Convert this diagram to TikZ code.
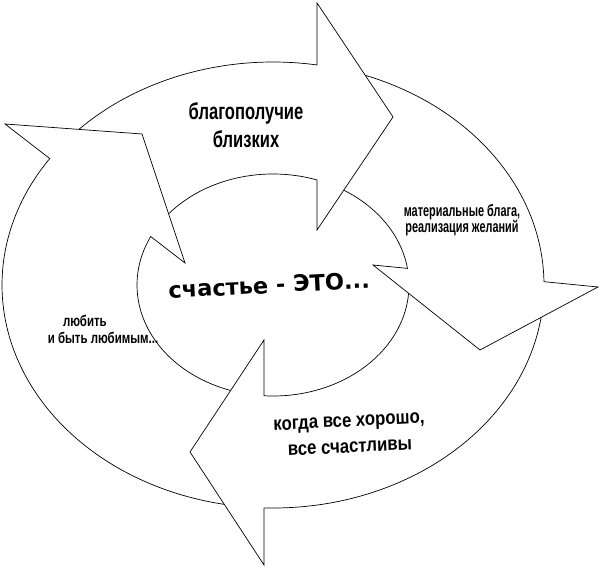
\documentclass[tikz,border=0pt]{standalone}
\usepackage{fontspec}
\usepackage{graphicx}
\setmainfont{Liberation Sans}
\newfontfamily\ctrfont{DejaVu Sans}
\usetikzlibrary{calc}
\newcommand\tightls{\lineskiplimit=-50pt\relax}
\tikzset{
  ring/.style={draw=black, line width=0.7pt, line join=miter},
  outerarc/.style={x radius=271pt, y radius=223pt},
  innerarc/.style={x radius=136pt, y radius=111pt},
  lbl/.style={inner sep=0pt, align=center, text=black}
}
\begin{document}
\begin{tikzpicture}[x=1pt,y=1pt]
\useasboundingbox (0,0) rectangle (603,570);
\fill[white] (0,0) rectangle (603,570);
\coordinate (C) at (273,285);
% arrowhead vertices
\coordinate (B1i) at (317,340); \coordinate (T1) at (393,453); \coordinate (B1o) at (317,567);
\coordinate (B2i) at (373,305); \coordinate (T2) at (480,220); \coordinate (B2o) at (598,283);
\coordinate (B3i) at (264,230); \coordinate (T3) at (190,118); \coordinate (B3o) at (264,5);
\coordinate (B4i) at (185,307); \coordinate (T4) at (142,436); \coordinate (B4o) at (5,446);
% top segment
\draw[ring] ($(C)+(140.13:136pt and 111pt)$) arc[innerarc, start angle=140.13, end angle=71.13]
  -- (B1i) -- (T1) -- (B1o) -- ($(C)+(80.65:271pt and 223pt)$) arc[outerarc, start angle=80.65, end angle=135.76];
% right segment
\draw[ring] ($(C)+(58.66:136pt and 111pt)$) arc[innerarc, start angle=58.66, end angle=8.60]
  -- (B2i) -- (T2) -- (B2o) -- ($(C)+(0.85:271pt and 223pt)$) arc[outerarc, start angle=0.85, end angle=70.11];
% bottom segment
\draw[ring] ($(C)+(-4.29:136pt and 111pt)$) arc[innerarc, start angle=-4.29, end angle=-93.80]
  -- (B3i) -- (T3) -- (B3o) -- ($(C)+(-91.90:271pt and 223pt)$) arc[outerarc, start angle=-91.90, end angle=-8.36];
% left segment
\draw[ring] ($(C)+(-108.16:136pt and 111pt)$) arc[innerarc, start angle=-108.16, end angle=-205.9]
  -- (B4i) -- (T4) -- (B4o) -- ($(C)+(-214.54:271pt and 223pt)$) arc[outerarc, start angle=-214.54, end angle=-100.37];
% labels
\node[lbl, font=\bfseries\fontsize{23}{28}\selectfont\tightls, xscale=0.72] (blag) at (246,445) {благополучие\\близких};
\node[lbl, font=\bfseries\fontsize{16.5}{16.5}\selectfont\tightls, xscale=0.66] (mat) at (462,350) {материальные блага,\\реализация желаний};
\node[lbl, font=\ctrfont\bfseries\fontsize{22.5}{26}\selectfont, rotate=3] (sch) at (269,285) {счастье - ЭТО...};
\node[lbl, font=\bfseries\fontsize{15.5}{17}\selectfont\tightls, xscale=0.74] (lub) at (103,240.5) {любить\hspace*{49pt}\\и быть любимым...};
\node[lbl, font=\bfseries\fontsize{19.5}{26}\selectfont\tightls, xscale=0.86, rotate=2.5] (kog) at (349.5,135.5) {когда все хорошо,\\все счастливы};
\end{tikzpicture}
\end{document}
